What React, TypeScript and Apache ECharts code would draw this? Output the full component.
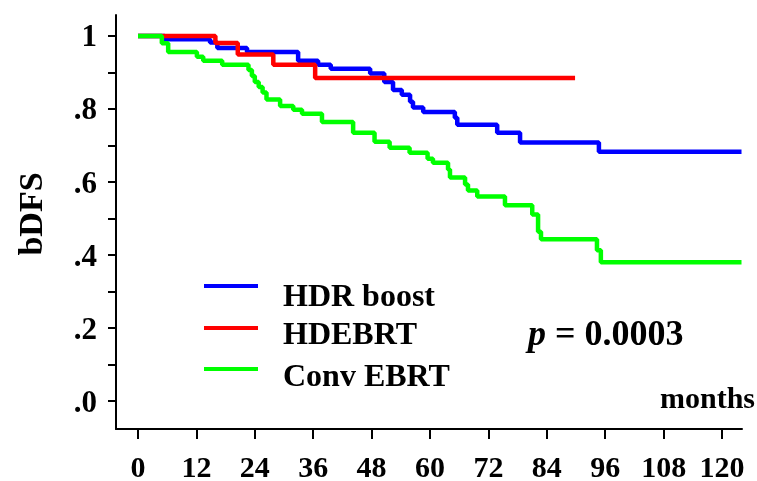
import React, { useEffect, useRef } from "react";
import * as echarts from "echarts";

// ---- data (months, survival) ----
const hdrBoost: [number, number][] = [
  [0, 1], [5.5, 0.991], [14.8, 0.982], [16.3, 0.967], [22.4, 0.956], [32.9, 0.932],
  [37, 0.921], [39.6, 0.91], [47.7, 0.897], [50.6, 0.874], [52.4, 0.852], [54.2, 0.839],
  [55.9, 0.82], [56.5, 0.804], [58.6, 0.792], [65.1, 0.776], [65.6, 0.757], [73.8, 0.735],
  [78.5, 0.708], [94.7, 0.683], [124, 0.683],
];
const hdebrt: [number, number][] = [
  [0, 1], [15.9, 0.981], [20.5, 0.949], [27.8, 0.921], [36.4, 0.885], [89.8, 0.885],
];
const convEbrt: [number, number][] = [
  [0, 1], [4.9, 0.98], [6.2, 0.956], [12.1, 0.943], [13.4, 0.932], [17.3, 0.921],
  [22.7, 0.907], [23.4, 0.89], [24.0, 0.874], [24.8, 0.86], [25.6, 0.845], [26.4, 0.826],
  [29.2, 0.808], [31.9, 0.798], [33.7, 0.787], [37.8, 0.764], [44.2, 0.735], [48.6, 0.71],
  [51.7, 0.694], [55.8, 0.68], [59.5, 0.664], [60.6, 0.653], [63.7, 0.634], [64.1, 0.612],
  [67.2, 0.593], [67.8, 0.577], [69.7, 0.56], [75.4, 0.536], [81, 0.511], [82.2, 0.464],
  [82.8, 0.443], [94.3, 0.413], [95.1, 0.38], [124, 0.38],
];
const seriesNames = ["HDR boost", "HDEBRT", "Conv EBRT"];
const seriesColors = ["#0000ff", "#ff0000", "#00ff00"];
const xTickValues = [0, 12, 24, 36, 48, 60, 72, 84, 96, 108, 120];
const yLabelValues = [0, 0.2, 0.4, 0.6, 0.8, 1];
const yTickValues = [0, 0.1, 0.2, 0.3, 0.4, 0.5, 0.6, 0.7, 0.8, 0.9, 1];
const xName = "months";
const yName = "bDFS";

const FONT = "'Liberation Serif', 'Times New Roman', serif";

export default function App() {
  const ref = useRef<HTMLDivElement>(null);
  useEffect(() => {
    if (!ref.current) return;
    const chart = echarts.init(ref.current, null, { renderer: "svg" });
    const data = [hdrBoost, hdebrt, convEbrt];
    const legendY = [286, 328, 369];
    const legendTextY = [295, 333, 375];
    const graphics: any[] = [];
    seriesNames.forEach((n, i) => {
      graphics.push({
        type: "line",
        shape: { x1: 204, y1: legendY[i], x2: 258, y2: legendY[i] },
        style: { stroke: seriesColors[i], lineWidth: 4 },
      });
      graphics.push({
        type: "text",
        x: 283,
        y: legendTextY[i],
        style: {
          text: n,
          fontFamily: FONT,
          fontWeight: "bold",
          fontSize: 32,
          fill: "#000",
          verticalAlign: "middle",
          align: "left",
        },
      });
    });
    graphics.push({
      type: "text",
      x: 528,
      y: 333,
      style: {
        text: "{i|p} = 0.0003",
        rich: {
          i: { fontStyle: "italic", fontWeight: "bold", fontFamily: FONT, fontSize: 36, fill: "#000" },
        },
        fontFamily: FONT,
        fontWeight: "bold",
        fontSize: 36,
        fill: "#000",
        verticalAlign: "middle",
        align: "left",
      },
    });
    graphics.push({
      type: "text",
      x: 755,
      y: 397,
      style: {
        text: xName,
        fontFamily: FONT,
        fontWeight: "bold",
        fontSize: 30,
        fill: "#000",
        verticalAlign: "middle",
        align: "right",
      },
    });
    graphics.push({
      type: "text",
      x: 30,
      y: 214,
      rotation: Math.PI / 2,
      style: {
        text: yName,
        fontFamily: FONT,
        fontWeight: "bold",
        fontSize: 34,
        fill: "#000",
        verticalAlign: "middle",
        align: "center",
      },
    });

    chart.setOption({
      animation: false,
      grid: { left: 116, right: 15, top: 15, bottom: 51, containLabel: false },
      xAxis: {
        type: "value",
        min: -4.52,
        max: 124.1,
        axisLine: { show: true, onZero: false, lineStyle: { color: "#000", width: 2 } },
        axisTick: { show: true, length: 10, customValues: xTickValues, lineStyle: { color: "#000", width: 2 } },
        axisLabel: {
          customValues: xTickValues,
          margin: 22,
          fontFamily: FONT,
          fontWeight: "bold",
          fontSize: 30,
          color: "#000",
        },
        splitLine: { show: false },
      },
      yAxis: {
        type: "value",
        min: -0.0765,
        max: 1.0574,
        axisLine: { show: true, onZero: false, lineStyle: { color: "#000", width: 2 } },
        axisTick: { show: true, length: 8, customValues: yTickValues, lineStyle: { color: "#000", width: 2 } },
        axisLabel: {
          customValues: yLabelValues,
          margin: 19,
          fontFamily: FONT,
          fontWeight: "bold",
          fontSize: 31,
          color: "#000",
          formatter: (v: number) => (v >= 0.999 ? "1" : v.toFixed(1).replace(/^0/, "")),
        },
        splitLine: { show: false },
      },
      series: data.map((d, i) => ({
        name: seriesNames[i],
        type: "line",
        step: "end",
        data: d,
        showSymbol: false,
        symbol: "none",
        lineStyle: { color: seriesColors[i], width: 4.5 },
        itemStyle: { color: seriesColors[i] },
      })),
      graphic: graphics,
    });
    return () => chart.dispose();
  }, []);
  return <div ref={ref} style={{ position: "fixed", left: 0, top: 0, width: 757, height: 481 }} />;
}
